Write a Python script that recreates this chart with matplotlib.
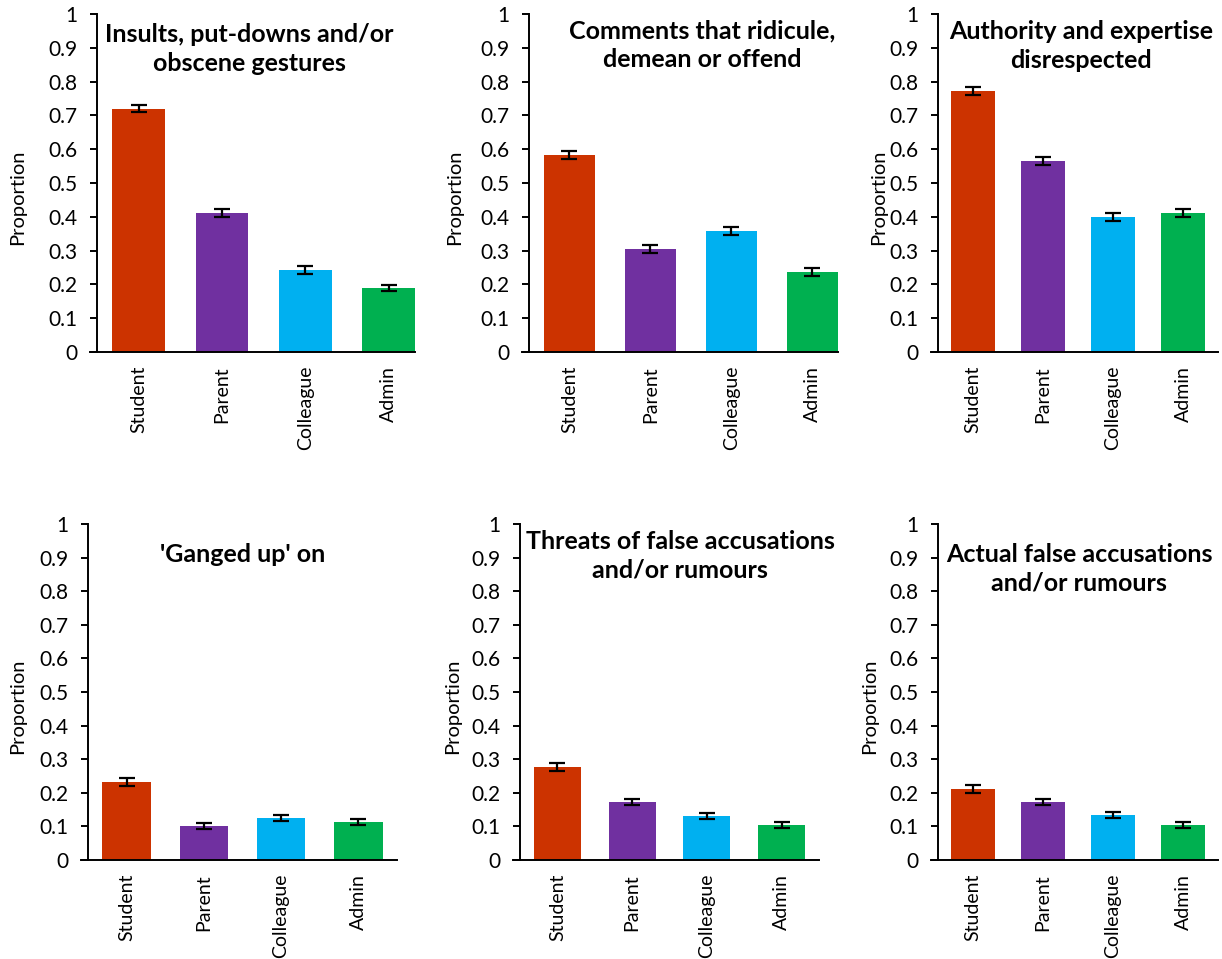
import matplotlib.pyplot as plt
import numpy as np

plt.rcParams['font.family'] = ['Lato', 'DejaVu Sans']

# Data
groups = ['Student', 'Parent', 'Colleague', 'Admin']
colors = ['#CC3300', '#7030A0', '#00B0F0', '#00B050']

titles = [
    'Insults, put-downs and/or\nobscene gestures',
    'Comments that ridicule,\ndemean or offend',
    'Authority and expertise\ndisrespected',
    "'Ganged up' on",
    'Threats of false accusations\nand/or rumours',
    'Actual false accusations\nand/or rumours',
]

insults = [0.720, 0.411, 0.243, 0.189]
comments = [0.583, 0.305, 0.358, 0.237]
authority = [0.772, 0.565, 0.399, 0.411]
ganged = [0.232, 0.101, 0.125, 0.113]
threats = [0.277, 0.173, 0.131, 0.104]
actual = [0.211, 0.173, 0.134, 0.104]

insults_err = [0.011, 0.012, 0.011, 0.010]
comments_err = [0.013, 0.012, 0.012, 0.011]
authority_err = [0.011, 0.013, 0.012, 0.012]
ganged_err = [0.012, 0.009, 0.010, 0.010]
threats_err = [0.012, 0.010, 0.009, 0.008]
actual_err = [0.011, 0.010, 0.009, 0.008]

values = [insults, comments, authority, ganged, threats, actual]
errors = [insults_err, comments_err, authority_err, ganged_err, threats_err, actual_err]

W, H = 1222, 959
fig = plt.figure(figsize=(W / 100, H / 100), dpi=100)

# panel boxes in pixels: left, right, top, bottom
boxes = [
    (97, 415, 14, 352),
    (529, 838, 14, 352),
    (938, 1218, 14, 352),
    (88, 397, 524, 860),
    (520, 819, 524, 860),
    (938, 1218, 524, 860),
]
# right limit: top-left and top-middle stop at the last bar's edge
xright = [3.315, 3.315, 3.5, 3.5, 3.5, 3.5]
# title centre (x, y of first line) and right edge of the ylabel in pixels
title_pos = [(249, 36), (702, 32), (1081, 33), (243, 556), (680, 543), (1079, 556)]
ylabel_x = [26, 463, 887, 26, 461, 878]

bar_w = 0.63
x = np.arange(len(groups))

for i in range(6):
    l, r, t, b = boxes[i]
    ax = fig.add_axes([l / W, 1 - b / H, (r - l) / W, (b - t) / H])
    ax.bar(x, values[i], width=bar_w, color=colors, zorder=2)
    ax.errorbar(x, values[i], yerr=errors[i], fmt='none', ecolor='black',
                elinewidth=1.6, capsize=6, capthick=1.6, zorder=3)
    ax.set_xlim(-0.5, xright[i])
    ax.set_ylim(0, 1)
    ax.set_yticks(np.arange(0, 1.01, 0.1))
    ax.set_yticklabels(['0'] + ['%.1f' % v for v in np.arange(0.1, 0.95, 0.1)] + ['1'])
    ax.set_xticks(x)
    ax.set_xticklabels(groups, rotation=90)
    ax.tick_params(axis='x', length=0, pad=10, labelsize=14)
    ax.tick_params(axis='y', length=5, width=1.4, pad=9, labelsize=15)
    for s in ['top', 'right']:
        ax.spines[s].set_visible(False)
    for s in ['left', 'bottom']:
        ax.spines[s].set_linewidth(1.4)
    ax.spines['bottom'].set_bounds(-0.5 - 7 / ((r - l) / (xright[i] + 0.5)), xright[i])
    ax.spines['bottom'].set_clip_on(False)

    ax.set_ylabel('Proportion', fontsize=14.5)
    yl_x = (ylabel_x[i] - l) / (r - l)
    yl_y = (b - (t + b) / 2 - 14) / (b - t)
    ax.yaxis.set_label_coords(yl_x, yl_y)

    tx, ty = title_pos[i]
    fig.text(tx / W, 1 - (ty - 13) / H, titles[i], ha='center', va='top',
             fontsize=18, fontweight='bold', linespacing=1.3)

fig.savefig('out.png', dpi=100)
